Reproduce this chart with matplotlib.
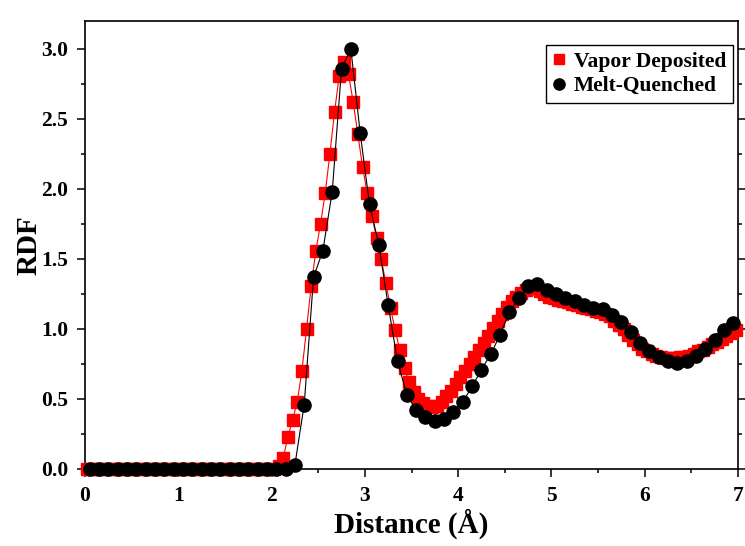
import numpy as np
import matplotlib
matplotlib.use("Agg")
import matplotlib.pyplot as plt
from matplotlib.ticker import MultipleLocator

plt.rcParams['font.family'] = ['Liberation Serif', 'DejaVu Serif']
plt.rcParams['font.weight'] = 'bold'

# Vapor deposited: bins of 0.05 A, centres at 0.025 + 0.05k
vapor_rdf = [0.0] * 41 + [
    0.02, 0.08, 0.23, 0.35, 0.48, 0.70, 1.00, 1.31, 1.56, 1.75,
    1.97, 2.25, 2.55, 2.81, 2.91, 2.82, 2.62, 2.39, 2.16, 1.97,
    1.81, 1.65, 1.50, 1.33, 1.15, 0.99, 0.85, 0.72, 0.62, 0.55,
    0.50, 0.47, 0.45, 0.44, 0.45, 0.48, 0.52, 0.56, 0.61, 0.66,
    0.70, 0.75, 0.80, 0.85, 0.90, 0.95, 1.01, 1.06, 1.11, 1.16,
    1.20, 1.23, 1.26, 1.28, 1.29, 1.29, 1.27, 1.25, 1.23, 1.22,
    1.21, 1.20, 1.19, 1.18, 1.17, 1.16, 1.15, 1.14, 1.13, 1.12,
    1.11, 1.09, 1.06, 1.03, 1.00, 0.96, 0.92, 0.89, 0.86, 0.84,
    0.82, 0.81, 0.80, 0.79, 0.79, 0.79, 0.80, 0.80, 0.81, 0.82,
    0.84, 0.85, 0.87, 0.89, 0.91, 0.93, 0.95, 0.97, 0.99,
]
vapor_r = 0.025 + 0.05 * np.arange(len(vapor_rdf))

# Melt quenched: bins of 0.1 A, centres at 0.05 + 0.1k
melt_rdf = [0.0] * 21 + [
    0.0, 0.03, 0.46, 1.37, 1.56, 1.98, 2.86, 3.00, 2.40, 1.89,
    1.60, 1.17, 0.77, 0.53, 0.42, 0.37, 0.34, 0.36, 0.41, 0.48,
    0.59, 0.71, 0.82, 0.96, 1.12, 1.22, 1.31, 1.32, 1.28, 1.25,
    1.22, 1.20, 1.17, 1.15, 1.14, 1.10, 1.05, 0.98, 0.90, 0.84,
    0.80, 0.77, 0.76, 0.77, 0.81, 0.86, 0.92, 0.99, 1.04,
]
melt_r = 0.05 + 0.1 * np.arange(len(melt_rdf))

fig = plt.figure(figsize=(7.45, 5.46), dpi=100)
ax = fig.add_axes([85 / 745, 77 / 546, 653 / 745, 448 / 546])

ax.plot(vapor_r, vapor_rdf, color='red', lw=0.8, marker='s', ms=8,
        mec='red', mfc='red', clip_on=False, label='Vapor Deposited', zorder=3)
ax.plot(melt_r, melt_rdf, color='black', lw=0.8, marker='o', ms=9.5,
        mec='black', mfc='black', clip_on=False, label='Melt-Quenched', zorder=4)

ax.set_xlim(0, 7)
ax.set_ylim(0, 3.2)
ax.xaxis.set_major_locator(MultipleLocator(1))
ax.xaxis.set_minor_locator(MultipleLocator(0.5))
ax.yaxis.set_major_locator(MultipleLocator(0.5))
ax.yaxis.set_minor_locator(MultipleLocator(0.25))
ax.yaxis.set_major_formatter(plt.FormatStrFormatter('%.1f'))

ax.tick_params(which='both', direction='out', top=True, right=True, width=1.1)
ax.tick_params(which='major', length=6, labelsize=15.5, pad=6)
ax.tick_params(which='minor', length=3)
ax.tick_params(axis='x', which='both', top=False)
for s in ax.spines.values():
    s.set_linewidth(1.2)

ax.set_xlabel('Distance (Å)', fontsize=21, fontweight='bold', labelpad=2)
ax.set_ylabel('RDF', fontsize=21, fontweight='bold', labelpad=-1)

leg = ax.legend(loc='upper right', bbox_to_anchor=(0.992, 0.946), borderaxespad=0,
                fancybox=False, edgecolor='black', framealpha=1, fontsize=15.5,
                handlelength=0.6, handletextpad=0.4, borderpad=0.3, labelspacing=0.2,
                markerscale=0.85)
leg.get_frame().set_linewidth(1.0)
for h in leg.legend_handles:
    h.set_linestyle('')

fig.savefig('out.png', dpi=100)
